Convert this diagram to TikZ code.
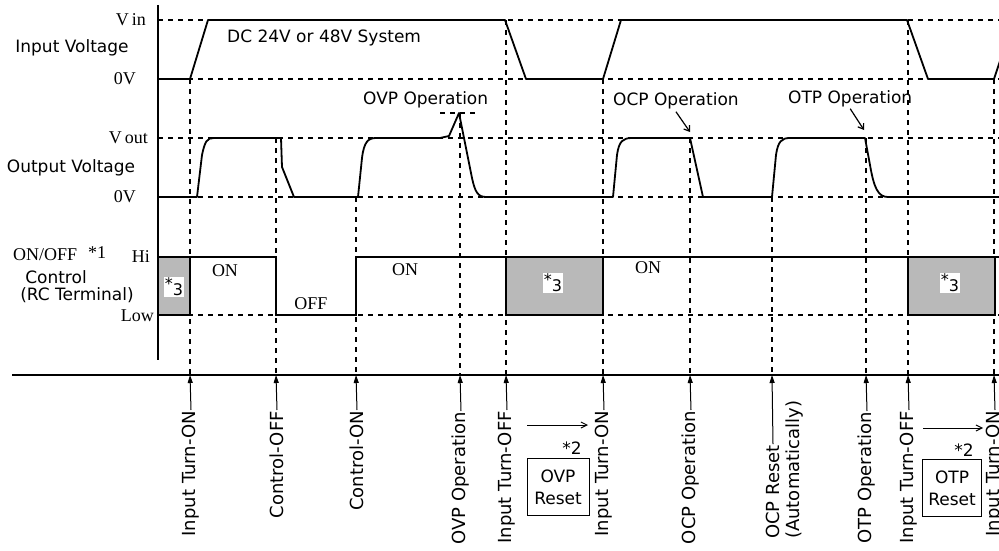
\documentclass[tikz,border=0pt]{standalone}
\usepackage{fontspec}
\setsansfont{DejaVu Sans}
\newfontfamily\serifjp{Liberation Serif}
\usetikzlibrary{arrows.meta}
\begin{document}
\begin{tikzpicture}[x=1pt,y=-1pt,
  wave/.style={line width=1.8pt, line join=round},
  guide/.style={line width=1.4pt, dash pattern=on 5pt off 5pt},
  sig/.style={line width=1.6pt, line join=miter},
  lbl/.style={font=\sffamily\fontsize{17}{20}\selectfont, inner sep=0pt},
  slbl/.style={font=\serifjp\fontsize{18}{20}\selectfont, inner sep=0pt},
  evt/.style={font=\sffamily\fontsize{18}{20}\selectfont, inner sep=1pt, rotate=90, anchor=east},
  evarrow/.style={line width=1pt, -{Triangle[length=8pt,width=5pt]}},
  shadebox/.style={fill=gray!55, draw=black, line width=1.5pt},
  patch/.style={fill=white, inner sep=1pt, font=\sffamily\fontsize{16}{20}\selectfont},
  resetbox/.style={draw, line width=1pt, minimum width=62pt, minimum height=57pt, align=center, inner sep=0pt, font=\sffamily\fontsize{17}{22}\selectfont},
  annarrow/.style={line width=1.2pt, -{Straight Barb[length=5pt,width=7pt]}},
  thinarrow/.style={line width=1pt, -{Straight Barb[length=6pt,width=6pt]}},
]
\useasboundingbox (0,0) rectangle (999,551);
\fill[white] (0,0) rectangle (999,551);
\begin{scope}
\clip (0,0) rectangle (999,551);
% axes
\draw[line width=1.2pt] (158,5) -- (158,360);
\draw[line width=1.2pt] (12,375) -- (999,375);
% event coordinates on time axis
\foreach \n/\x in {1/190,2/276,3/356,4/460,5/506,6/603,7/690,8/772,9/866,10/908,11/994}
  \coordinate (t\n) at (\x,375);
% horizontal guides
\foreach \y in {20,79,138,197,315} \draw[guide] (158,\y) -- (999,\y);
% vertical guides
\draw[guide] (190,79) -- (t1);
\draw[guide] (276,138) -- (t2);
\draw[guide] (356,197) -- (t3);
\draw[guide] (460,113) -- (t4);
\draw[guide] (506,20) -- (t5);
\draw[guide] (603,79) -- (t6);
\draw[guide] (690,138) -- (t7);
\draw[guide] (772,197) -- (t8);
\draw[guide] (866,138) -- (t9);
\draw[guide] (908,20) -- (t10);
\draw[guide] (994,79) -- (t11);
% shaded boxes
\draw[shadebox] (158,257) rectangle (190,315);
\draw[shadebox] (506,257) rectangle (603,315);
\draw[shadebox] (908,257) rectangle (995,315);
\node[patch] (p1) at (174,287) {\raisebox{6pt}{*}3};
\node[patch] (p2) at (553,283) {\raisebox{6pt}{*}3};
\node[patch] (p3) at (950,283) {\raisebox{6pt}{*}3};
% control signal
\draw[sig] (190,257) -- (276,257) -- (276,315) -- (356,315) -- (356,257) -- (999,257);
% input voltage
\draw[wave] (158,79) -- (190,79) -- (208,20) -- (505,20) -- (526,79) -- (603,79) -- (621,20) -- (907,20) -- (928,79) -- (994,79) -- (1002,55);
% output voltage
\draw[wave] (158,197) -- (197,197) -- (202,155) .. controls (205,141) and (207,138) .. (214,138)
  -- (281,138) -- (282,167) -- (294,197) -- (358,197) -- (362,158) .. controls (364,142) and (368,138) .. (376,138)
  -- (440,138) -- (449,136) -- (459,113) -- (466,148) -- (472,178) .. controls (475,192) and (478,197) .. (486,197)
  -- (613,197) -- (617,155) .. controls (619,141) and (623,138) .. (632,138)
  -- (690,138) -- (703,197) -- (772,197) -- (776,155) .. controls (778,141) and (782,138) .. (790,138)
  -- (865,138) -- (870,165) .. controls (874,188) and (878,197) .. (888,197) -- (999,197);
% OVP peak marker
\draw[guide, line width=1.2pt] (440,113) -- (478,113);
% top annotations
\node[lbl, anchor=base west] (dc) at (227,43) {DC 24V or 48V System};
\node[lbl, anchor=base west] (ovp) at (363,104) {OVP Operation};
\node[lbl, anchor=base west] (ocp) at (613,105) {OCP Operation};
\node[lbl, anchor=base west] (otp) at (788,103) {OTP Operation};
\coordinate (ocptip) at (690,132);
\coordinate (otptip) at (864,130);
\draw[annarrow] ([yshift=-3pt]ocp.south) -- (ocptip);
\draw[annarrow] ([yshift=-2pt]otp.south) -- (otptip);
% left labels
\node[slbl, anchor=east] (vin) at (146,20) {V\,in};
\node[lbl] (iv) at (72,48) {Input Voltage};
\node[slbl, anchor=east] (z1) at (136,79) {0V};
\node[slbl, anchor=east] (vout) at (148,138) {V\,out};
\node[lbl] (ov) at (71,168) {Output Voltage};
\node[slbl, anchor=east] (z2) at (136,197) {0V};
\node[slbl, anchor=west] (onoff) at (13,255) {ON/OFF};
\node[slbl, anchor=west] (s1) at (88,253) {*1};
\node[slbl, anchor=east] (hi) at (150,257) {Hi};
\node[lbl] (ctl) at (56,277) {Control};
\node[lbl] (rc) at (77,295) {(RC Terminal)};
\node[slbl, anchor=east] (low) at (154,316) {Low};
% ON / OFF
\node[slbl] (on1) at (225,271) {ON};
\node[slbl] (off) at (311,304) {OFF};
\node[slbl] (on2) at (405,270) {ON};
\node[slbl] (on3) at (648,268) {ON};
% event labels
\node[evt] (e1) at (191,410) {Input Turn-ON};
\node[evt] (e2) at (277,410) {Control-OFF};
\node[evt] (e3) at (357,410) {Control-ON};
\node[evt] (e4) at (461,411) {OVP Operation};
\node[evt] (e5) at (507,410) {Input Turn-OFF};
\node[evt] (e6) at (604,410) {Input Turn-ON};
\node[evt] (e7) at (691,410) {OCP Operation};
\node[evt, anchor=west] (e8) at (773,540) {OCP Reset};
\node[evt, anchor=west] (e8b) at (795,540) {(Automatically)};
\node[evt] (e9) at (867,411) {OTP Operation};
\node[evt] (e10) at (909,410) {Input Turn-OFF};
\node[evt] (e11) at (995,410) {Input Turn-ON};
\foreach \n in {1,2,3,4,5,6,7,8,9,10,11} \draw[evarrow] (e\n.east) -- (t\n);
% reset notes
\coordinate (ra1) at (527,425); \coordinate (rb1) at (588,425);
\coordinate (ra2) at (923,428); \coordinate (rb2) at (983,428);
\draw[thinarrow] (ra1) -- (rb1);
\draw[thinarrow] (ra2) -- (rb2);
\node[lbl] (n2a) at (572,448) {*2};
\node[lbl] (n2b) at (964,450) {*2};
\node[resetbox] (ovpr) at (558,487) {OVP\\Reset};
\node[resetbox, minimum width=59pt] (otpr) at (952,488) {OTP\\Reset};
\end{scope}
\end{tikzpicture}
\end{document}
